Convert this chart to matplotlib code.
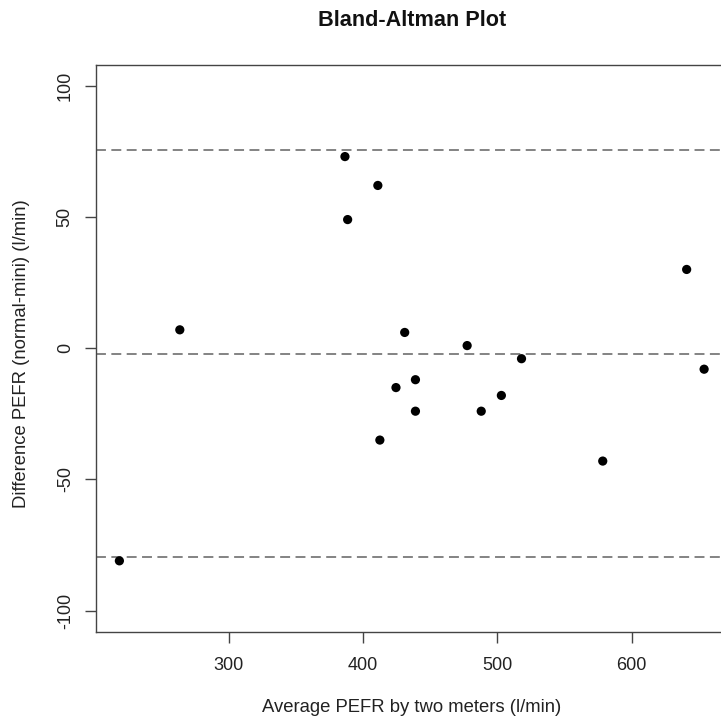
#!/usr/bin/env python3
"""Bland-Altman plot of PEFR: Wright peak flow meter vs mini Wright meter."""
import numpy as np
import matplotlib
matplotlib.use("Agg")
import matplotlib.pyplot as plt

# average of the two meters and difference (normal - mini), l/min
avg_pefr = [503, 412.5, 518, 431, 488, 578.5, 388.5, 411, 654,
            439, 424.5, 641, 263.5, 477.5, 218.5, 386.5, 439]
diff_pefr = [-18, -35, -4, 6, -24, -43, 49, 62, -8,
             -12, -15, 30, 7, 1, -81, 73, -24]

x_ticks = [300, 400, 500, 600]
y_ticks = [-100, -50, 0, 50, 100]

TITLE = "Bland-Altman Plot"
XLABEL = "Average PEFR by two meters (l/min)"
YLABEL = "Difference PEFR (normal-mini) (l/min)"

FONT = ["Liberation Sans", "DejaVu Sans"]


def main():
    plt.rcParams["font.family"] = FONT
    W, H = 721, 719
    fig = plt.figure(figsize=(W / 100, H / 100), dpi=100)

    # R-style plot region, right edge runs past the picture (clipped)
    left, right, top, bottom = 96, 727.5, 64.7, 631.7
    ax = fig.add_axes([left / W, 1 - bottom / H,
                       (right - left) / W, (bottom - top) / H])

    d = np.array(diff_pefr, dtype=float)
    mean_d = d.mean()
    sd_d = d.std(ddof=1)
    for yv in (mean_d + 2 * sd_d, mean_d, mean_d - 2 * sd_d):
        ax.axhline(yv, color="#7a7a7a", lw=1.3, ls=(0, (5.5, 3)), zorder=1)

    ax.scatter(avg_pefr, diff_pefr, s=44, c="black", edgecolors="none",
               zorder=3)

    ax.set_xlim(201.08, 671.42)
    ax.set_ylim(-108, 108)
    ax.set_xticks(x_ticks)
    ax.set_yticks(y_ticks)
    ax.set_yticklabels([str(v) for v in y_ticks], rotation=90, va="center")
    ax.tick_params(axis="both", direction="out", length=8, width=1.0,
                   color="#444444", labelsize=13, labelcolor="#222222")
    ax.tick_params(axis="x", pad=10.5)
    ax.tick_params(axis="y", pad=8)
    for sp in ax.spines.values():
        sp.set_color("#444444")
        sp.set_linewidth(1.0)

    fig.text(411.7 / W, 1 - 21 / H, TITLE, ha="center", va="center",
             fontsize=15.6, fontweight="bold", color="#111111")
    fig.text(411.5 / W, 1 - 708 / H, XLABEL, ha="center", va="center",
             fontsize=13.3, color="#222222")
    fig.text(22 / W, 1 - 353.5 / H, YLABEL, ha="center", va="center",
             rotation=90, fontsize=13.3, color="#222222")

    fig.savefig("out.png", dpi=100)
    plt.close(fig)


if __name__ == "__main__":
    main()
